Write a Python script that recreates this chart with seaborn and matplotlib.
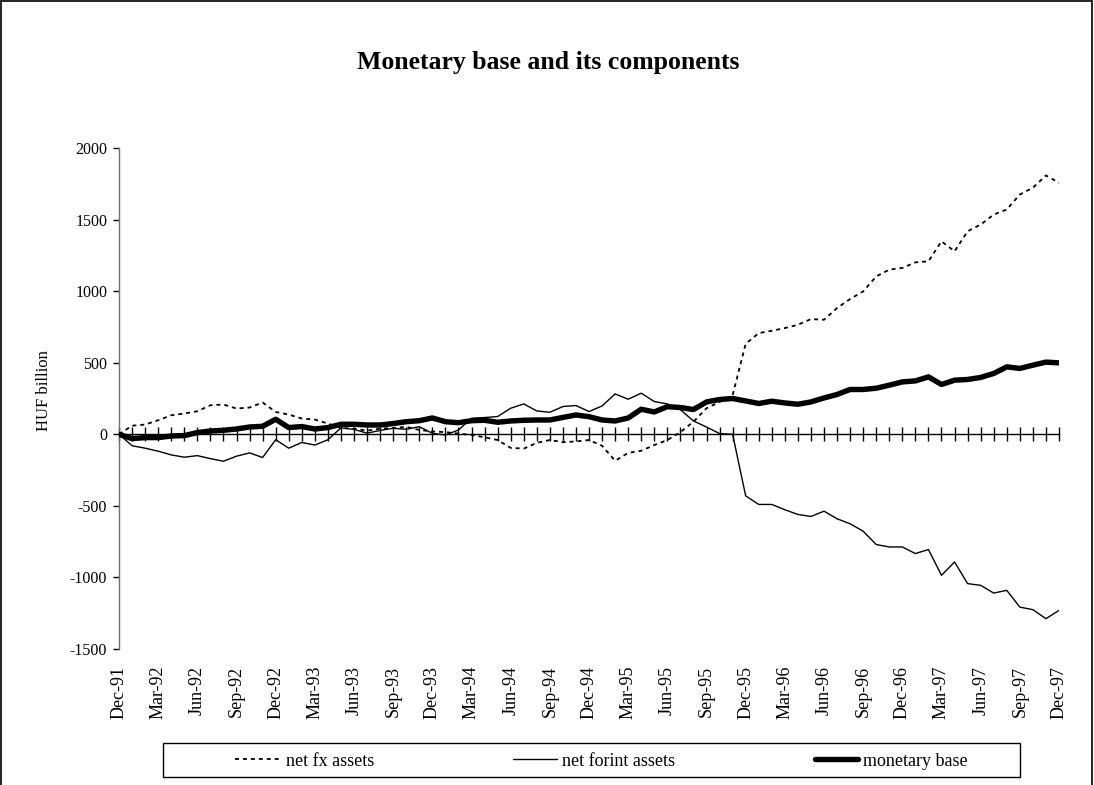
import numpy as np
import pandas as pd
import matplotlib
matplotlib.use("Agg")
import matplotlib.pyplot as plt
import seaborn as sns
from matplotlib.lines import Line2D
from matplotlib.patches import Rectangle

# ---- data (HUF billion, monthly Dec-91 .. Dec-97) ----
net_fx = [0, 60, 68, 98, 133, 145, 161, 203, 208, 180, 187, 222, 156, 138, 110, 103,
          75, 44, 40, 25, 40, 44, 52, 30, 20, 15, 5, -5, -21, -40, -95, -100,
          -60, -40, -55, -50, -40, -80, -185, -130, -115, -75, -40, 15, 88, 182,
          225, 273, 632, 707, 723, 742, 765, 805, 800, 882, 945, 998, 1103, 1150,
          1162, 1201, 1208, 1348, 1278, 1418, 1465, 1535, 1570, 1675, 1722, 1808, 1757]

net_forint = [0, -80, -97, -118, -144, -160, -149, -170, -188, -153, -130, -162, -38,
              -97, -57, -75, -38, 45, 34, 8, 27, 42, 35, 53, 7, -5, 30, 112, 117,
              124, 182, 212, 163, 154, 194, 201, 159, 198, 282, 245, 287, 229, 212,
              172, 93, 51, 5, 0, -430, -490, -490, -527, -560, -574, -537, -590,
              -625, -677, -770, -787, -787, -833, -805, -985, -892, -1043, -1055,
              -1109, -1090, -1207, -1225, -1288, -1230]

monetary_base = [0, -30, -23, -23, -12, -9, 12, 23, 28, 37, 51, 56, 105, 47, 54, 37,
                 47, 70, 70, 65, 65, 75, 88, 95, 114, 88, 81, 95, 98, 84, 93, 98, 100,
                 100, 118, 135, 123, 100, 93, 114, 175, 156, 193, 187, 173, 226, 243,
                 250, 233, 215, 231, 219, 210, 226, 254, 278, 313, 313, 322, 343, 366,
                 373, 401, 348, 378, 383, 397, 425, 471, 460, 483, 504, 499]

tick_labels = ["Dec-91", "Mar-92", "Jun-92", "Sep-92", "Dec-92", "Mar-93", "Jun-93",
               "Sep-93", "Dec-93", "Mar-94", "Jun-94", "Sep-94", "Dec-94", "Mar-95",
               "Jun-95", "Sep-95", "Dec-95", "Mar-96", "Jun-96", "Sep-96", "Dec-96",
               "Mar-97", "Jun-97", "Sep-97", "Dec-97"]

series_names = ["net fx assets", "net forint assets", "monetary base"]

month = np.arange(len(net_fx))
df = pd.DataFrame({"month": month,
                   series_names[0]: net_fx,
                   series_names[1]: net_forint,
                   series_names[2]: monetary_base})

sns.set_theme(style="white")
plt.rcParams["font.family"] = ["Liberation Serif", "DejaVu Serif"]
plt.rcParams["text.color"] = "black"
plt.rcParams["axes.labelcolor"] = "black"
plt.rcParams["xtick.color"] = "black"
plt.rcParams["ytick.color"] = "black"
plt.rcParams["axes.unicode_minus"] = False

fig = plt.figure(figsize=(10.94, 7.85), dpi=100)
ax = fig.add_axes([0.1088, 0.1732, 0.8592, 0.6383])

styles = [dict(lw=1.3, ls=(0, (2.2, 2.2))),
          dict(lw=1.0, ls="-"),
          dict(lw=3.9, ls="-")]

for name, st in zip(series_names, styles):
    sns.lineplot(data=df, x="month", y=name, ax=ax, color="black",
                 linewidth=st["lw"], linestyle=st["ls"], legend=False, zorder=3)

ax.set_xlim(0, len(net_fx) - 1)
ax.set_ylim(-1500, 2000)
ax.set_yticks(np.arange(-1500, 2001, 500))

for s in ["top", "right"]:
    ax.spines[s].set_visible(False)
ax.spines["bottom"].set_position(("data", 0))
ax.spines["bottom"].set_color("black")
ax.spines["bottom"].set_linewidth(1.0)
ax.spines["left"].set_color("#707070")
ax.spines["left"].set_linewidth(1.0)

ax.set_xticks(month)
ax.set_xticklabels([])
ax.tick_params(axis="x", bottom=True, direction="inout", length=9.5, width=1.0,
               color="black")
ax.tick_params(axis="y", left=True, direction="out", length=4.5, width=1.0,
               labelsize=11.5, pad=4, color="black")
ax.set_xlabel("")
ax.set_ylabel("HUF billion", fontsize=12)
ax.yaxis.set_label_coords(-0.071, 0.515)

sec = ax.secondary_xaxis(0)
sec.set_xticks(month[::3], labels=tick_labels)
sec.tick_params(length=0, labelrotation=90, labelsize=13, pad=12)
sec.spines["bottom"].set_visible(False)

fig.text(0.501, 0.921, "Monetary base and its components", ha="center",
         va="center", fontsize=18.5, fontweight="bold")

# legend: frame box plus three entries placed as in the reference
W, H = 1094.0, 785.0
fig.add_artist(Rectangle((163 / W, 1 - 777 / H), (1020 - 163) / W, (777 - 743) / H,
                         transform=fig.transFigure, fill=False, edgecolor="black",
                         lw=1.0))
entry_x = [235, 513, 815]
handle_len = [2.6, 2.45, 2.4]
for name, st, ex, hl in zip(series_names, styles, entry_x, handle_len):
    h = Line2D([], [], color="black", linewidth=st["lw"], linestyle=st["ls"])
    fig.legend([h], [name], loc="center left",
               bbox_to_anchor=(ex / W, 1 - 761 / H), frameon=False,
               borderpad=0, borderaxespad=0, fontsize=13, handlelength=hl,
               handletextpad=0.25)

# chart-area border (left, top, right)
for xs, ys in [([0.001, 0.001], [0.0, 0.999]),
               ([0.001, 0.998], [0.999, 0.999]),
               ([0.998, 0.998], [0.0, 0.999])]:
    fig.add_artist(Line2D(xs, ys, transform=fig.transFigure, color="black", lw=1.2))

fig.savefig("out.png", dpi=100)
